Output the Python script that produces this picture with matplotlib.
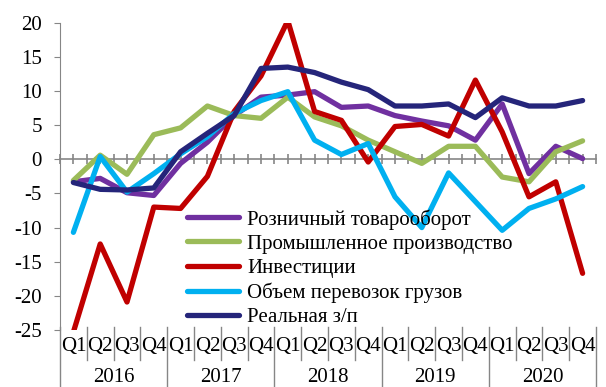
import numpy as np
import matplotlib
matplotlib.use("Agg")
from matplotlib import pyplot as plt

plt.rcParams['font.family'] = ['Liberation Serif', 'DejaVu Serif']
plt.rcParams['axes.unicode_minus'] = False

# данные по кварталам 2016Q1 - 2020Q4
years = ['2016', '2017', '2018', '2019', '2020']
quarters = ['Q1', 'Q2', 'Q3', 'Q4']

retail = [-3.3, -2.8, -4.9, -5.3, -0.6, 2.5, 6.4, 9.1, 9.4, 9.9,
          7.6, 7.8, 6.4, 5.6, 4.9, 2.8, 8.1, -2.1, 1.9, 0.1]
industry = [-3.1, 0.6, -2.2, 3.6, 4.6, 7.8, 6.4, 6.0, 9.1, 6.2,
            4.9, 2.8, 1.1, -0.6, 1.9, 1.9, -2.6, -3.3, 1.1, 2.7]
invest = [-25.3, -12.4, -20.9, -7.0, -7.2, -2.5, 7.0, 12.2, 20.3, 7.0,
          5.7, -0.4, 4.8, 5.1, 3.4, 11.6, 4.0, -5.5, -3.3, -16.7]
cargo = [-10.7, 0.4, -4.8, -2.1, 0.8, 3.3, 6.7, 8.6, 9.9, 2.8,
         0.7, 2.3, -5.5, -10.0, -2.0, -6.2, -10.4, -7.2, -5.8, -4.0]
wages = [-3.4, -4.4, -4.5, -4.2, 1.1, 3.8, 6.4, 13.3, 13.5, 12.7,
         11.3, 10.2, 7.8, 7.8, 8.1, 6.1, 9.0, 7.8, 7.8, 8.6]

names = ['Розничный товарооборот', 'Промышленное производство', 'Инвестиции',
         'Объем перевозок грузов', 'Реальная з/п']
series = [retail, industry, invest, cargo, wages]
colors = ['#7030A0', '#9BBB59', '#C00000', '#00B0F0', '#25257A']

gray = '#868686'
y_min, y_max = -25, 20
n = len(retail)
x = np.arange(n)

fig = plt.figure(figsize=(6.06, 3.87), dpi=100)
ax = fig.add_axes([60/606, 1-330/387, 536/606, (330-22.7)/387])

for vals, c, name in zip(series, colors, names):
    ax.plot(x, vals, color=c, lw=3.8, label=name,
            solid_capstyle='round', solid_joinstyle='round')

ax.set_xlim(-0.5, n - 0.5)
ax.set_ylim(y_min, y_max)
ax.set_yticks(np.arange(y_min, y_max + 1, 5))
ax.tick_params(axis='y', direction='out', length=4, color=gray, labelsize=15, pad=9)
for s in ['top', 'right', 'bottom']:
    ax.spines[s].set_visible(False)
ax.spines['left'].set_color(gray)

# подписи кварталов снизу
ax.set_xticks(x, quarters * len(years))
ax.tick_params(axis='x', length=0, labelsize=15, pad=5)

# горизонтальная ось на нуле
sec = ax.secondary_xaxis((0 - y_min) / (y_max - y_min))
sec.set_xticks(np.arange(-0.5, n, 1.0))
sec.set_xticks(x, minor=True)
sec.tick_params(which='both', direction='inout', length=7, width=1.2, color=gray,
                bottom=True, top=False, labelbottom=False, labeltop=False)
for s in sec.spines.values():
    s.set_color(gray)
    s.set_linewidth(1.2)

# разделители подписей
tr = ax.get_xaxis_transform()
for k in range(n + 1):
    bottom = -0.1855 if k % 4 == 0 else -0.098
    ax.plot([k - 0.5, k - 0.5], [0.01, bottom], transform=tr, color=gray,
            lw=1, clip_on=False)
for i, yr in enumerate(years):
    ax.text(i * 4 + 1.5, -0.153, yr, transform=tr, ha='center', va='center', fontsize=15)

fig.legend(loc='upper left', bbox_to_anchor=(187/606, 1-209/387), frameon=False,
           fontsize=15, borderpad=0, borderaxespad=0, labelspacing=0.22,
           handlelength=2.5, handletextpad=0.4)

plt.savefig('out.png', dpi=100)
